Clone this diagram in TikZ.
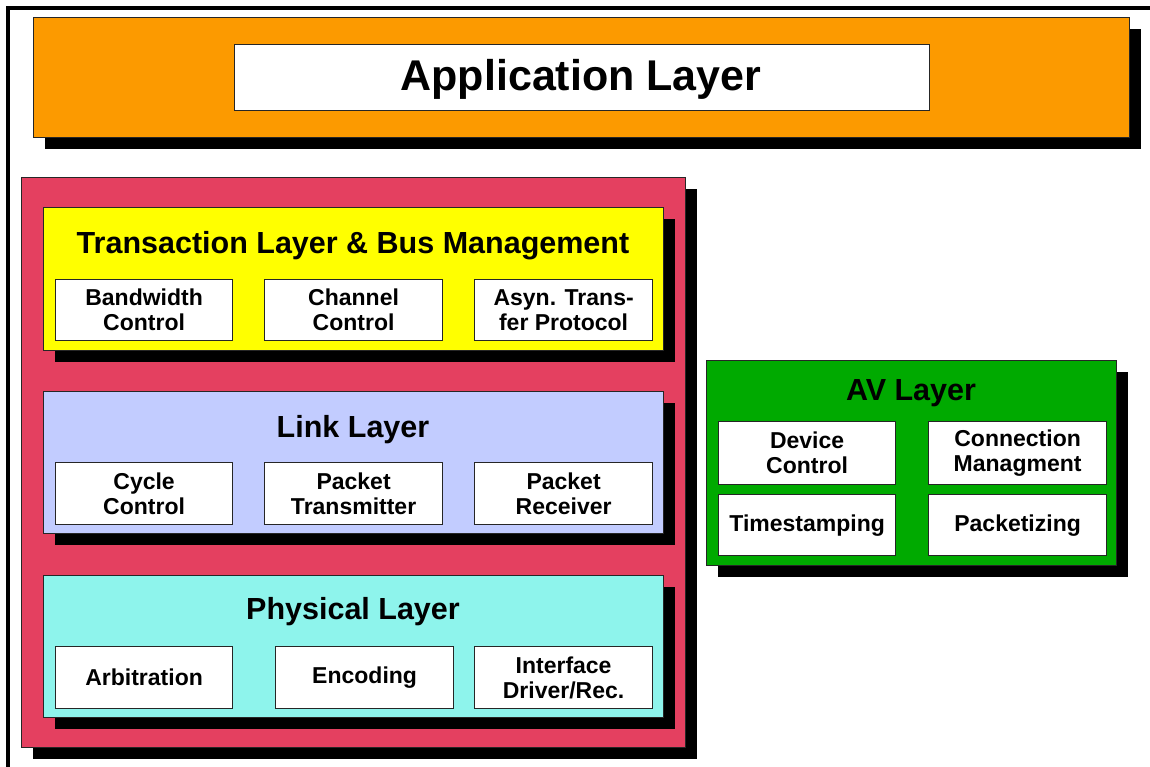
\documentclass[tikz,border=0pt]{standalone}
\usepackage{fontspec}
\setmainfont{Liberation Sans}
\usetikzlibrary{shadows}
\definecolor{appcol}{RGB}{252,154,0}
\definecolor{stackcol}{RGB}{228,64,96}
\definecolor{transcol}{RGB}{255,255,0}
\definecolor{linkcol}{RGB}{194,204,255}
\definecolor{physcol}{RGB}{142,244,236}
\definecolor{avcol}{RGB}{0,170,0}
\tikzset{
  layer/.style={draw=black!85, line width=1.2pt, anchor=north west, inner sep=0pt,
    drop shadow={shadow xshift=11pt, shadow yshift=-11pt, opacity=1, fill=black}},
  unit/.style={draw=black!85, line width=1.2pt, fill=white, anchor=north west, inner sep=0pt,
    align=center, font=\bfseries\fontsize{23}{25}\selectfont},
  ltitle/.style={font=\bfseries\fontsize{30.5}{33}\selectfont, inner sep=0pt},
}
\begin{document}
\begin{tikzpicture}[x=1pt,y=-1pt]
\useasboundingbox (0,0) rectangle (1150,767);
% outer frame
\draw[line width=4pt] (8,770) -- (8,8) -- (1152,8);

% application layer
\node[layer, fill=appcol, minimum width=1096pt, minimum height=120pt] (app) at (33,17) {};
\node[draw=black!85, line width=1.2pt, fill=white, anchor=north west, inner sep=0pt,
  minimum width=695pt, minimum height=66pt] (appbox) at (234,44) {};
\node[font=\bfseries\fontsize{43}{45}\selectfont, inner sep=0pt] (apptitle) at (581,79) {Application Layer};

% 1394 protocol stack
\node[layer, fill=stackcol, minimum width=664pt, minimum height=570pt] (stack) at (21,177) {};

% transaction layer
\node[layer, fill=transcol, minimum width=620pt, minimum height=143pt] (trans) at (43,207) {};
\node[ltitle] (transtitle) at (353,246) {Transaction Layer \& Bus Management};
\node[unit, minimum width=177pt, minimum height=61pt] (bw) at (55,279) {Bandwidth\\Control};
\node[unit, minimum width=178pt, minimum height=61pt] (ch) at (264,279) {Channel\\Control};
\node[unit, minimum width=178pt, minimum height=61pt] (atp) at (474,279) {Asyn. Trans-\\fer Protocol};

% link layer
\node[layer, fill=linkcol, minimum width=620pt, minimum height=142pt] (link) at (43,391) {};
\node[ltitle] (linktitle) at (353,430) {Link Layer};
\node[unit, minimum width=177pt, minimum height=62pt] (cyc) at (55,462) {Cycle\\Control};
\node[unit, minimum width=178pt, minimum height=62pt] (ptx) at (264,462) {Packet\\Transmitter};
\node[unit, minimum width=178pt, minimum height=62pt] (prx) at (474,462) {Packet\\Receiver};

% physical layer
\node[layer, fill=physcol, minimum width=620pt, minimum height=142pt] (phys) at (43,575) {};
\node[ltitle] (phystitle) at (353,612) {Physical Layer};
\node[unit, minimum width=177pt, minimum height=62pt] (arb) at (55,646) {Arbitration};
\node[unit, minimum width=178pt, minimum height=62pt] (enc) at (275,646) {Encoding};
\node[unit, minimum width=178pt, minimum height=62pt] (drv) at (474,646) {Interface\\Driver/Rec.};

% AV layer
\node[layer, fill=avcol, minimum width=410pt, minimum height=205pt] (av) at (706,360) {};
\node[ltitle] (avtitle) at (911,393) {AV Layer};
\node[unit, minimum width=177pt, minimum height=63pt] (dev) at (718,421) {Device\\Control};
\node[unit, minimum width=178pt, minimum height=63pt] (con) at (928,421) {Connection\\Managment};
\node[unit, minimum width=177pt, minimum height=61pt] (ts) at (718,494) {Timestamping};
\node[unit, minimum width=178pt, minimum height=61pt] (pk) at (928,494) {Packetizing};
\end{tikzpicture}
\end{document}
